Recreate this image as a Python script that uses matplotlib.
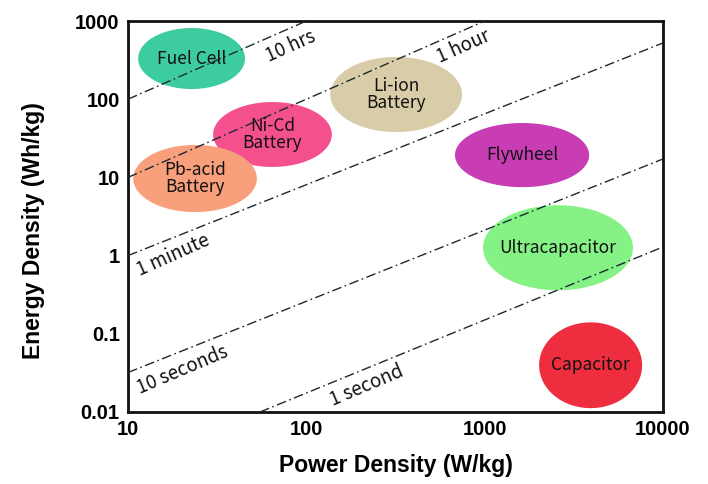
import numpy as np
import matplotlib
matplotlib.use("Agg")
import matplotlib.pyplot as plt

# technology ranges (W/kg, Wh/kg)
techs = ['Fuel Cell', 'Ni-Cd\nBattery', 'Pb-acid\nBattery', 'Li-ion\nBattery',
         'Flywheel', 'Ultracapacitor', 'Capacitor']
p_min = [11.4, 30, 10.7, 136, 682, 980, 2020]
p_max = [45.3, 139, 52.8, 747, 3855, 6790, 7640]
e_min = [135, 13.6, 3.6, 38, 7.5, 0.36, 0.0112]
e_max = [813, 92, 26, 347, 49.6, 4.4, 0.14]
colors = ['#3DCCA0', '#F5508E', '#F8A07C', '#D9CCA8', '#C83CB4', '#84F284', '#EE2E3E']

# constant discharge-time lines: start and end points (P, E)
line_names = ['10 hrs', '1 hour', '1 minute', '10 seconds', '1 second']
line_p0 = [10, 10, 10, 10, 55]
line_e0 = [100, 10, 1.0, 0.032, 0.01]
line_p1 = [100, 1000, 10000, 10000, 10000]
line_e1 = [1000, 1000, 524, 17.2, 1.29]
# label positions next to the lines
lab_p = [82, 757, 17.9, 20.3, 219]
lab_e = [479, 465, 1.02, 0.0344, 0.022]
lab_rot = [24, 24, 24, 23, 23]

fig = plt.figure(figsize=(7.08, 4.84), dpi=100)
ax = fig.add_axes([0.1808, 0.1488, 0.7556, 0.8078])
ax.set_xscale('log')
ax.set_yscale('log')
ax.set_xlim(10, 10000)
ax.set_ylim(0.01, 1000)

lab_font = ['Noto Sans CJK KR', 'DejaVu Sans']

for i in range(len(line_names)):
    ax.plot([line_p0[i], line_p1[i]], [line_e0[i], line_e1[i]],
            color='#1a2a30', lw=1.0, ls=(0, (7, 2.5, 1.2, 2.5)), zorder=3)
    ax.text(lab_p[i], lab_e[i], line_names[i], rotation=lab_rot[i], fontsize=13.5,
            family=lab_font, ha='center', va='center', color='#111111', zorder=4,
            rotation_mode='anchor')

t = np.linspace(0, 2 * np.pi, 200)
for i in range(len(techs)):
    cx = (np.log10(p_min[i]) + np.log10(p_max[i])) / 2
    cy = (np.log10(e_min[i]) + np.log10(e_max[i])) / 2
    rx = (np.log10(p_max[i]) - np.log10(p_min[i])) / 2
    ry = (np.log10(e_max[i]) - np.log10(e_min[i])) / 2
    xs = 10 ** (cx + rx * np.cos(t))
    ys = 10 ** (cy + ry * np.sin(t))
    ax.fill(xs, ys, color=colors[i], lw=0, zorder=2)
    ax.text(10 ** cx, 10 ** cy, techs[i], ha='center', va='center', fontsize=12.5,
            family=lab_font, linespacing=0.9, color='#111111', zorder=5)

ax.set_xticks([10, 100, 1000, 10000])
ax.set_xticklabels(['10', '100', '1000', '10000'])
ax.set_yticks([0.01, 0.1, 1, 10, 100, 1000])
ax.set_yticklabels(['0.01', '0.1', '1', '10', '100', '1000'])
ax.minorticks_off()
ax.tick_params(length=0, pad=6)
for lab in ax.get_xticklabels() + ax.get_yticklabels():
    lab.set_fontfamily('Liberation Sans')
    lab.set_fontweight('bold')
    lab.set_fontsize(14.5)

for s in ax.spines.values():
    s.set_linewidth(2)
    s.set_color('#111111')

ax.set_xlabel('Power Density (W/kg)', fontsize=16.5, fontweight='bold',
              family='Liberation Sans')
ax.set_ylabel('Energy Density (Wh/kg)', fontsize=16.5, fontweight='bold',
              family='Liberation Sans')
ax.xaxis.set_label_coords(0.5, -0.108)
ax.yaxis.set_label_coords(-0.155, 0.463)

fig.savefig('out.png', dpi=100)
